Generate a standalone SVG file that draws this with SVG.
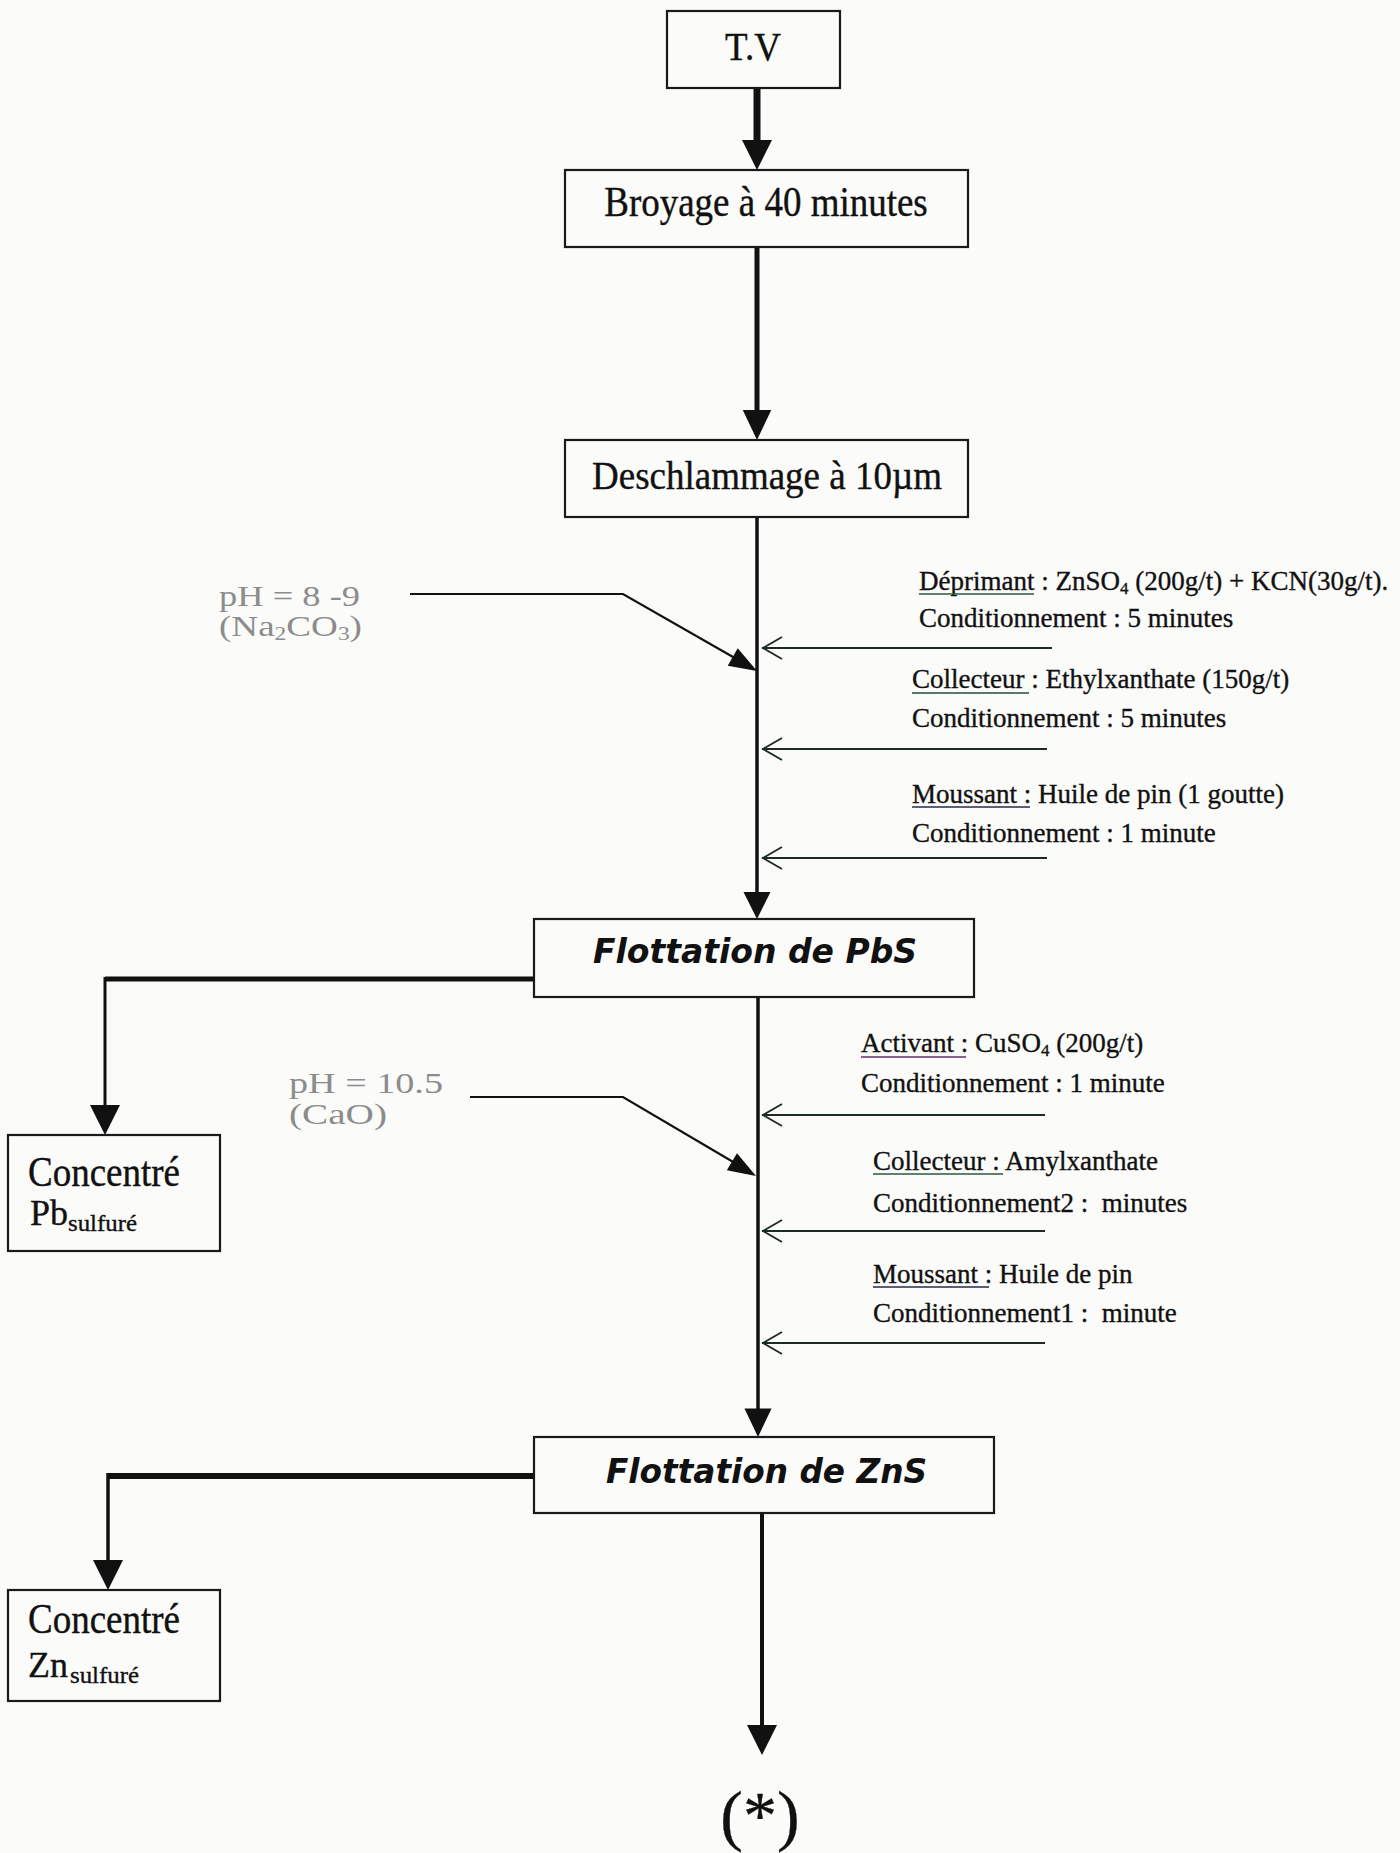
<svg xmlns="http://www.w3.org/2000/svg" width="1400" height="1853" viewBox="0 0 1400 1853">
<style>
.bg{fill:#fbfbf9}
.box{fill:#fbfbf9;stroke:#1a1a1a;stroke-width:2.2}
.t{font-family:"Liberation Serif","Times New Roman",serif;fill:#111;stroke:#111;stroke-width:0.35}
.big{font-size:37px}
.r{font-size:27px}
.ph{font-family:"Liberation Serif","Times New Roman",serif;font-size:30px;fill:#8c8c8c}
.fl{font-family:"DejaVu Sans",Verdana,sans-serif;font-size:33px;font-weight:bold;font-style:italic;fill:#111}
.ln{stroke:#111;fill:none}
.in{stroke:#1c2b24;stroke-width:2.2;fill:none}
.oa{stroke:#1c2b24;stroke-width:1.8;fill:none}
.ul{stroke-width:1.6}
.ah{fill:#111}
</style>
<defs>
<path id="ah" d="M0,0 L-15,-30 L15,-30 Z"/>
<path id="ahd" d="M0,0 L-28,-10 L-28,10 Z"/>
<path id="oah" d="M20,-11 L1,0 L20,11"/>
</defs>
<rect class="bg" x="0" y="0" width="1400" height="1853"/>

<g id="connectors">
  <line class="ln" x1="757" y1="88" x2="757" y2="145" stroke-width="7"/>
  <use href="#ah" class="ah" transform="translate(757,170)"/>
  <line class="ln" x1="757" y1="247" x2="757" y2="415" stroke-width="5"/>
  <use href="#ah" class="ah" transform="translate(757,440) scale(0.95,1)"/>
  <line class="ln" x1="757" y1="517" x2="757" y2="895" stroke-width="3.5"/>
  <use href="#ah" class="ah" transform="translate(757,919) scale(0.9,0.9)"/>
  <polyline class="ln" points="410,594 623,594 740,661" stroke-width="2.2" stroke="#1e2a24"/>
  <use href="#ahd" class="ah" transform="translate(757,671) rotate(29.9)"/>
  <line class="in" x1="762" y1="648" x2="1052" y2="648"/>
  <use href="#oah" class="oa" transform="translate(762,648)"/>
  <line class="in" x1="762" y1="749" x2="1047" y2="749"/>
  <use href="#oah" class="oa" transform="translate(762,749)"/>
  <line class="in" x1="762" y1="858" x2="1047" y2="858"/>
  <use href="#oah" class="oa" transform="translate(762,858)"/>
  <polyline class="ln" points="534,979 105,979" stroke-width="5"/>
  <line class="ln" x1="105" y1="977" x2="105" y2="1110" stroke-width="3"/>
  <use href="#ah" class="ah" transform="translate(105,1135)"/>
  <line class="ln" x1="758" y1="997" x2="758" y2="1412" stroke-width="3.5"/>
  <use href="#ah" class="ah" transform="translate(758,1437) scale(0.9,0.95)"/>
  <polyline class="ln" points="470,1097 623,1097 740,1166" stroke-width="2.2" stroke="#1e2a24"/>
  <use href="#ahd" class="ah" transform="translate(756,1176) rotate(30.6)"/>
  <line class="in" x1="762" y1="1115" x2="1045" y2="1115"/>
  <use href="#oah" class="oa" transform="translate(762,1115)"/>
  <line class="in" x1="762" y1="1231" x2="1045" y2="1231"/>
  <use href="#oah" class="oa" transform="translate(762,1231)"/>
  <line class="in" x1="762" y1="1343" x2="1045" y2="1343"/>
  <use href="#oah" class="oa" transform="translate(762,1343)"/>
  <polyline class="ln" points="534,1476 108,1476" stroke-width="6"/>
  <line class="ln" x1="108" y1="1473" x2="108" y2="1565" stroke-width="3.5"/>
  <use href="#ah" class="ah" transform="translate(108,1590)"/>
  <line class="ln" x1="762" y1="1513" x2="762" y2="1730" stroke-width="4"/>
  <use href="#ah" class="ah" transform="translate(762,1755)"/>
</g>

<g id="tv">
  <rect class="box" x="667" y="11" width="173" height="77"/>
  <text class="t" text-anchor="middle" font-size="37" transform="translate(753,60) scale(1,1.08)">T.V</text>
</g>
<g id="broyage">
  <rect class="box" x="565" y="170" width="403" height="77"/>
  <text class="t big" text-anchor="middle" transform="translate(766,216) scale(1,1.12)">Broyage à 40 minutes</text>
</g>
<g id="deschlammage">
  <rect class="box" x="565" y="440" width="403" height="77"/>
  <text class="t big" text-anchor="middle" transform="translate(767,489) scale(1,1.08)">Deschlammage à 10µm</text>
</g>

<g id="ph1">
  <text class="ph" x="219" y="606" textLength="141" lengthAdjust="spacingAndGlyphs">pH = 8 -9</text>
  <text class="ph" x="219" y="636" textLength="143" lengthAdjust="spacingAndGlyphs">(Na<tspan font-size="19" dy="4">2</tspan><tspan dy="-4">CO</tspan><tspan font-size="19" dy="4">3</tspan><tspan dy="-4">)</tspan></text>
</g>

<g id="reactifs1">
  <text class="t r" x="919" y="590">Déprimant : ZnSO<tspan font-size="17" dy="4">4</tspan><tspan dy="-4"> (200g/t) + KCN(30g/t).</tspan></text>
  <line class="ul" x1="919" y1="594" x2="1034" y2="594" stroke="#2d5a3d"/>
  <text class="t r" x="919" y="627">Conditionnement : 5 minutes</text>
  <text class="t r" x="912" y="688">Collecteur : Ethylxanthate (150g/t)</text>
  <line class="ul" x1="912" y1="693" x2="1029" y2="693" stroke="#2d4a3a"/>
  <text class="t r" x="912" y="727">Conditionnement : 5 minutes</text>
  <text class="t r" x="912" y="803">Moussant : Huile de pin (1 goutte)</text>
  <line class="ul" x1="912" y1="807" x2="1030" y2="807" stroke="#2a2a4a"/>
  <text class="t r" x="912" y="842">Conditionnement : 1 minute</text>
</g>

<g id="flottation-pbs">
  <rect class="box" x="534" y="919" width="440" height="78"/>
  <text class="fl" x="593" y="963" textLength="324" lengthAdjust="spacingAndGlyphs">Flottation de PbS</text>
</g>

<g id="concentre-pb">
  <rect class="box" x="8" y="1135" width="212" height="116"/>
  <text class="t big" transform="translate(28,1186) scale(1,1.12)">Concentré</text>
  <text class="t" x="30" y="1225" font-size="36">Pb</text>
  <text class="t" x="68" y="1231" font-size="24" textLength="69" lengthAdjust="spacingAndGlyphs">sulfuré</text>
</g>

<g id="ph2">
  <text class="ph" x="289" y="1093" textLength="154" lengthAdjust="spacingAndGlyphs">pH = 10.5</text>
  <text class="ph" x="289" y="1124" textLength="98" lengthAdjust="spacingAndGlyphs">(CaO)</text>
</g>

<g id="reactifs2">
  <text class="t r" x="861" y="1052">Activant : CuSO<tspan font-size="17" dy="4">4</tspan><tspan dy="-4"> (200g/t)</tspan></text>
  <line class="ul" x1="861" y1="1057" x2="966" y2="1057" stroke="#6a2a6a"/>
  <text class="t r" x="861" y="1092">Conditionnement : 1 minute</text>
  <text class="t r" x="873" y="1170">Collecteur : Amylxanthate</text>
  <line class="ul" x1="873" y1="1174" x2="1003" y2="1174" stroke="#2d5a3d"/>
  <text class="t r" x="873" y="1212" xml:space="preserve">Conditionnement2 :  minutes</text>
  <text class="t r" x="873" y="1283">Moussant : Huile de pin</text>
  <line class="ul" x1="873" y1="1287" x2="989" y2="1287" stroke="#2a2a4a"/>
  <text class="t r" x="873" y="1322" xml:space="preserve">Conditionnement1 :  minute</text>
</g>

<g id="flottation-zns">
  <rect class="box" x="534" y="1437" width="460" height="76"/>
  <text class="fl" x="606" y="1483" textLength="321" lengthAdjust="spacingAndGlyphs">Flottation de ZnS</text>
</g>

<g id="concentre-zn">
  <rect class="box" x="8" y="1590" width="212" height="111"/>
  <text class="t big" transform="translate(28,1633) scale(1,1.12)">Concentré</text>
  <text class="t" x="28" y="1677" font-size="36">Zn</text>
  <text class="t" x="70" y="1683" font-size="24" textLength="69" lengthAdjust="spacingAndGlyphs">sulfuré</text>
</g>

<g id="suite">
  <text class="t" x="760" y="1838" font-size="68" text-anchor="middle">(*)</text>
</g>
</svg>
